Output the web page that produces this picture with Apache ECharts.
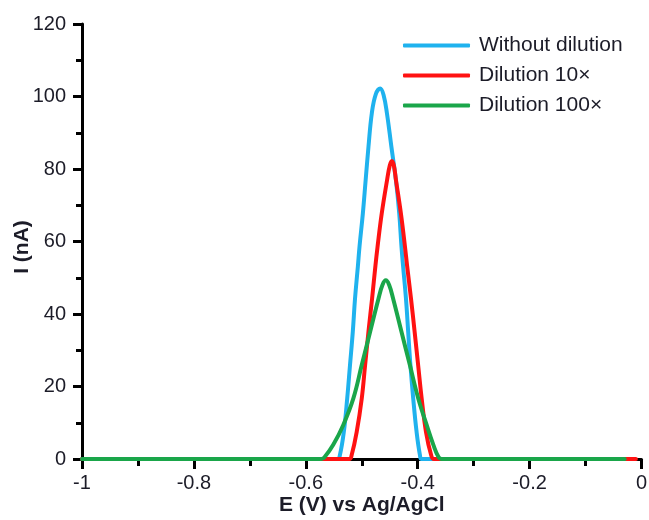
<!DOCTYPE html>
<html>
<head>
<meta charset="utf-8">
<title>Differential pulse voltammograms</title>
<script src="https://cdn.jsdelivr.net/npm/echarts@6/dist/echarts.min.js"></script>
<style>
  html, body { margin: 0; padding: 0; background: #ffffff; }
  #chart { width: 649px; height: 520px; }
</style>
</head>
<body>
<div id="chart"></div>
<script>
// Potential (V vs Ag/AgCl) and current (nA) for each sample
const seriesNames = ['Without dilution', 'Dilution 10\u00d7', 'Dilution 100\u00d7'];

const potentialUndiluted = [-1.00, -0.543, -0.539, -0.532, -0.526, -0.521, -0.516, -0.512, -0.507, -0.504, -0.498, -0.493, -0.488, -0.482, -0.475, -0.467, -0.461, -0.455, -0.447, -0.439, -0.433, -0.429, -0.426, -0.421, -0.417, -0.413, -0.408, -0.402, -0.396, -0.393, -0.03];
const currentUndiluted   = [0, 0, 1.1, 7.5, 16.7, 25.9, 35.1, 44.3, 53.0, 58.6, 67.8, 77.0, 86.1, 95.4, 100.6, 102.2, 100.4, 95.4, 86.1, 77.0, 67.8, 58.6, 53.0, 44.3, 35.1, 25.9, 16.7, 7.5, 1.1, 0, 0];

const potential10x = [-1.00, -0.522, -0.518, -0.509, -0.500, -0.494, -0.488, -0.4815, -0.4755, -0.4718, -0.4643, -0.4548, -0.4500, -0.4462, -0.4425, -0.4388, -0.4300, -0.4227, -0.4190, -0.4120, -0.4055, -0.3992, -0.3929, -0.3852, -0.376, -0.371, -0.01];
const current10x   = [0, 0, 1.1, 7.5, 16.7, 25.9, 35.1, 44.3, 53.4, 58.5, 67.7, 76.9, 80.9, 82.2, 80.9, 76.9, 67.7, 58.5, 53.4, 44.3, 35.1, 25.9, 16.7, 7.5, 1.1, 0, 0];

const potential100x = [-1.00, -0.572, -0.566, -0.551, -0.533, -0.515, -0.500, -0.485, -0.470, -0.463, -0.457, -0.451, -0.444, -0.429, -0.414, -0.399, -0.384, -0.372, -0.363, -0.357, -0.03];
const current100x   = [0, 0, 0.6, 3.9, 9.4, 16.7, 25.9, 35.1, 44.3, 48.0, 49.3, 48.0, 44.3, 35.1, 25.9, 16.7, 9.4, 3.9, 0.6, 0, 0];

const seriesColors = ['#1FB2EE', '#FF1212', '#1AA64A'];

const xTicks = { min: -1, max: 0, step: 0.2 };
const yTicks = { min: 0, max: 120, step: 20 };

function pairs(xs, ys) {
  return xs.map((x, i) => [x, ys[i]]);
}

const FONT = "'Liberation Sans', Arial, sans-serif";
const TEXT = '#1c1c28';

const chart = echarts.init(document.getElementById('chart'), null, { renderer: 'canvas' });

const curves = [
  pairs(potentialUndiluted, currentUndiluted),
  pairs(potential10x, current10x),
  pairs(potential100x, current100x)
];

chart.setOption({
  animation: false,
  backgroundColor: '#ffffff',
  grid: { left: 82, right: 7.5, top: 24, bottom: 61, outerBoundsMode: 'none', containLabel: false },
  legend: {
    orient: 'vertical',
    left: 403,
    top: 35,
    padding: 0,
    icon: 'roundRect',
    itemWidth: 67,
    itemHeight: 4,
    itemGap: 9,
    data: seriesNames,
    textStyle: {
      fontFamily: FONT,
      fontSize: 21,
      lineHeight: 20,
      color: TEXT,
      padding: [0, 0, 0, 4]
    }
  },
  xAxis: {
    type: 'value',
    min: xTicks.min,
    max: xTicks.max,
    interval: xTicks.step,
    name: 'E (V) vs Ag/AgCl',
    nameLocation: 'middle',
    nameGap: 36,
    nameMoveOverlap: false,
    nameTextStyle: { fontFamily: FONT, fontSize: 21, fontWeight: 'bold', color: TEXT },
    axisLine: { onZero: false, lineStyle: { color: '#000', width: 3 } },
    axisTick: { show: true, inside: false, length: 10, lineStyle: { color: '#000', width: 3 } },
    minorTick: { show: true, splitNumber: 2, length: 7, lineStyle: { color: '#000', width: 3 } },
    axisLabel: {
      margin: 14,
      fontFamily: FONT,
      fontSize: 20,
      color: TEXT,
      formatter: v => String(Math.round(v * 10) / 10)
    },
    splitLine: { show: false },
    minorSplitLine: { show: false }
  },
  yAxis: {
    type: 'value',
    min: yTicks.min,
    max: yTicks.max,
    interval: yTicks.step,
    name: 'I (nA)',
    nameLocation: 'middle',
    nameGap: 49,
    nameRotate: 90,
    nameMoveOverlap: false,
    nameTextStyle: { fontFamily: FONT, fontSize: 21, fontWeight: 'bold', color: TEXT, padding: [0, 11, 0, 0] },
    axisLine: { onZero: false, lineStyle: { color: '#000', width: 3 } },
    axisTick: { show: true, inside: false, length: 9, lineStyle: { color: '#000', width: 3 } },
    minorTick: { show: true, splitNumber: 2, length: 6, lineStyle: { color: '#000', width: 3 } },
    axisLabel: { margin: 16, fontFamily: FONT, fontSize: 20, color: TEXT },
    splitLine: { show: false },
    minorSplitLine: { show: false }
  },
  series: curves.map((data, i) => ({
    name: seriesNames[i],
    type: 'line',
    data: data,
    showSymbol: false,
    smooth: 0.4,
    lineStyle: { color: seriesColors[i], width: 4, cap: 'round', join: 'round' },
    itemStyle: { color: seriesColors[i] },
    emphasis: { disabled: true }
  }))
});
</script>
</body>
</html>
